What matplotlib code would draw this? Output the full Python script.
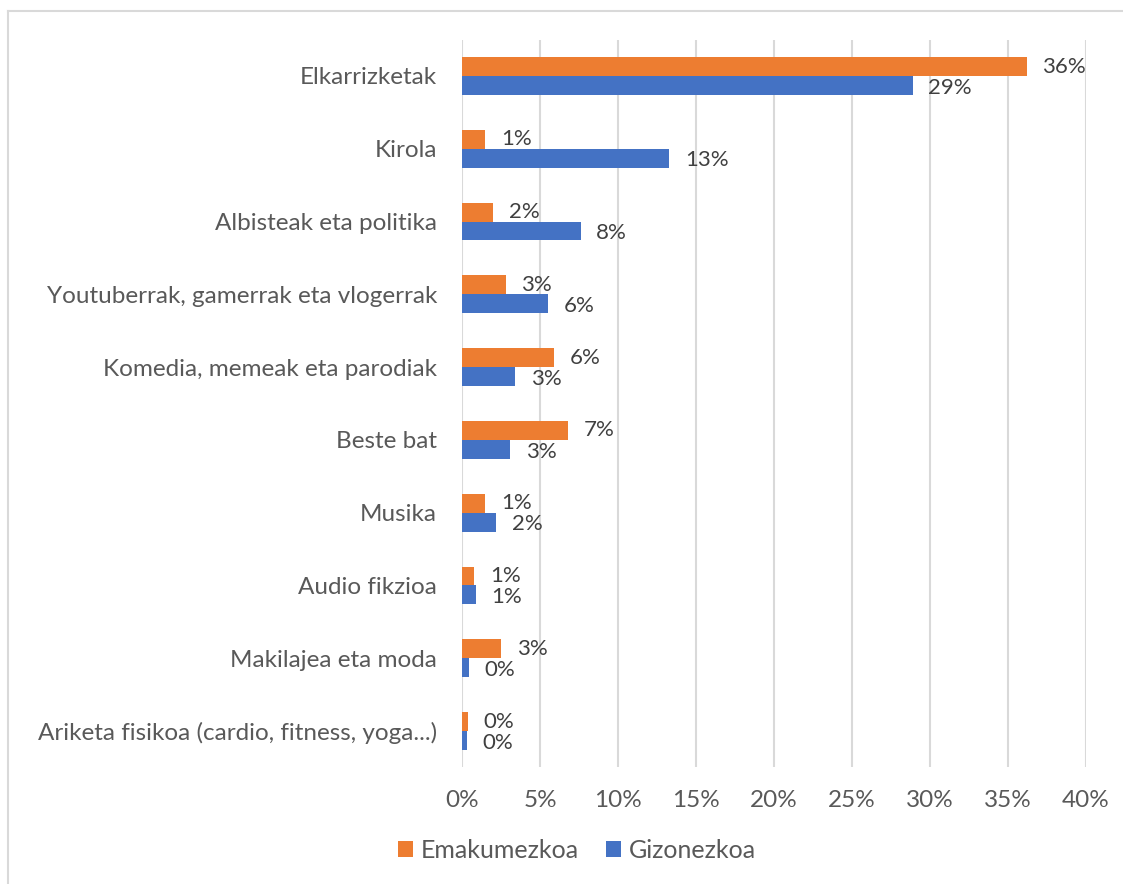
import matplotlib.pyplot as plt
import numpy as np

# Chart data (shares in %)
categories = [
    "Elkarrizketak",
    "Kirola",
    "Albisteak eta politika",
    "Youtuberrak, gamerrak eta vlogerrak",
    "Komedia, memeak eta parodiak",
    "Beste bat",
    "Musika",
    "Audio fikzioa",
    "Makilajea eta moda",
    "Ariketa fisikoa (cardio, fitness, yoga...)",
]
women = [36.2, 1.5, 2.0, 2.8, 5.9, 6.8, 1.5, 0.8, 2.5, 0.4]
men = [28.9, 13.3, 7.6, 5.5, 3.4, 3.1, 2.2, 0.9, 0.45, 0.3]
women_labels = ["36%", "1%", "2%", "3%", "6%", "7%", "1%", "1%", "3%", "0%"]
men_labels = ["29%", "13%", "8%", "6%", "3%", "3%", "2%", "1%", "0%", "0%"]
series_names = ["Emakumezkoa", "Gizonezkoa"]
xticks = [0, 5, 10, 15, 20, 25, 30, 35, 40]

ORANGE = "#ED7D31"
BLUE = "#4472C4"
TEXT = "#595959"
plt.rcParams["font.family"] = ["Lato", "DejaVu Sans"]

fig = plt.figure(figsize=(11.23, 8.84), dpi=100)
ax = fig.add_axes([0.4114, 0.1319, 0.5557, 0.8233])

y = np.arange(len(categories))
h = 0.26
ax.barh(y - h / 2, women, height=h, color=ORANGE, label=series_names[0], zorder=3)
ax.barh(y + h / 2, men, height=h, color=BLUE, label=series_names[1], zorder=3)

for yi, v, lab in zip(y, women, women_labels):
    ax.text(v + 1.0, yi - h / 2, lab, va="center", ha="left", fontsize=16, color="#404040")
for yi, v, lab in zip(y, men, men_labels):
    ax.text(v + 1.0, yi + h / 2 + 0.03, lab, va="center", ha="left", fontsize=16, color="#404040")

ax.set_xlim(0, 40)
ax.set_ylim(len(categories) - 0.5, -0.5)
ax.set_xticks(xticks)
ax.set_xticklabels([f"{t}%" for t in xticks])
ax.set_yticks(y)
ax.set_yticklabels(categories)
ax.tick_params(axis="both", length=0, labelsize=17.5, labelcolor=TEXT)
ax.tick_params(axis="y", pad=18)
ax.tick_params(axis="x", pad=16)
ax.grid(axis="x", color="#D9D9D9", linewidth=1.5, zorder=0)
for s in ax.spines.values():
    s.set_visible(False)

leg = fig.legend(loc="lower center", bbox_to_anchor=(0.514, 0.0), ncol=2, frameon=False,
                 fontsize=18, handlelength=0.6, handleheight=0.6, columnspacing=1.1,
                 handletextpad=0.3)
for t in leg.get_texts():
    t.set_color(TEXT)

# outer chart frame (only left and top edges visible)
fig.add_artist(plt.Line2D([0.0067, 0.0067], [0.0, 0.988], transform=fig.transFigure,
                          color="#D9D9D9", linewidth=1.5))
fig.add_artist(plt.Line2D([0.0067, 1.0], [0.988, 0.988], transform=fig.transFigure,
                          color="#D9D9D9", linewidth=1.5))

fig.savefig("out.png", dpi=100)
